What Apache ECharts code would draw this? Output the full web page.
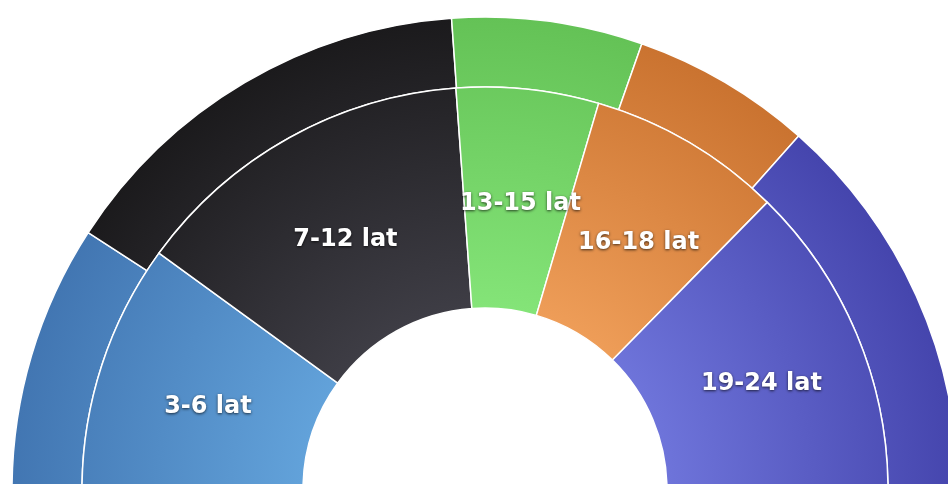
<!DOCTYPE html>
<html lang="pl">
<head>
    <meta charset="UTF-8">
    <title>Wiek</title>
    <script type="text/javascript" src="https://cdn.jsdelivr.net/npm/echarts@6/dist/echarts.min.js"></script>
    <style type="text/css">
        html, body { margin: 0; padding: 0; background: #fff; }
        #main { width: 948px; height: 484px; }
    </style>
</head>
<body>
    <div id="main"></div>
    <script type="text/javascript">
        // kategorie wiekowe i udzialy (pierscien wewnetrzny / zewnetrzny)
        var categories = ['3-6 lat', '7-12 lat', '13-15 lat', '16-18 lat', '19-24 lat'];
        var innerValues = [20.0, 27.7, 11.4, 15.6, 25.3];
        var outerValues = [18.3, 29.4, 13.0, 12.3, 26.9];

        // kolory: [przy srodku, na zewnatrz]
        var palette = [
            ['#62a2da', '#4276b2'],
            ['#3e3d45', '#1b1a1c'],
            ['#84e478', '#64c256'],
            ['#ee9d58', '#ca7330'],
            ['#6e74da', '#4545ad']
        ];

        var cx = 485, cy = 490;
        var rHole = 182, rMid = 403, rOut = 473;

        function grad(i) {
            return {
                type: 'radial', x: cx, y: cy, r: rOut, global: true,
                colorStops: [
                    { offset: 0, color: palette[i][0] },
                    { offset: rHole / rOut, color: palette[i][0] },
                    { offset: 1, color: palette[i][1] }
                ]
            };
        }

        function build(values) {
            var out = [];
            for (var i = 0; i < categories.length; i++) {
                out.push({ name: categories[i], value: values[i], itemStyle: { color: grad(i) } });
            }
            return out;
        }

        var chart = echarts.init(document.getElementById('main'));
        chart.setOption({
            animation: false,
            series: [
                {
                    type: 'pie',
                    silent: true,
                    center: [cx, cy],
                    radius: [rMid, rOut],
                    startAngle: 180,
                    endAngle: 0,
                    avoidLabelOverlap: false,
                    label: { show: false },
                    labelLine: { show: false },
                    itemStyle: { borderColor: '#fff', borderWidth: 1.5 },
                    data: build(outerValues)
                },
                {
                    type: 'pie',
                    silent: true,
                    center: [cx, cy],
                    radius: [rHole, rMid],
                    startAngle: 180,
                    endAngle: 0,
                    avoidLabelOverlap: false,
                    labelLine: { show: false },
                    label: {
                        show: true,
                        position: 'inside',
                        formatter: '{b}',
                        offset: [4, 8],
                        color: '#fff',
                        fontFamily: 'DejaVu Sans',
                        fontWeight: 'bold',
                        fontSize: 24,
                        textBorderWidth: 0,
                        textShadowColor: 'rgba(0,0,0,0.7)',
                        textShadowBlur: 3,
                        textShadowOffsetY: 1
                    },
                    itemStyle: { borderColor: '#fff', borderWidth: 1.5 },
                    data: build(innerValues)
                }
            ]
        });
    </script>
</body>
</html>
